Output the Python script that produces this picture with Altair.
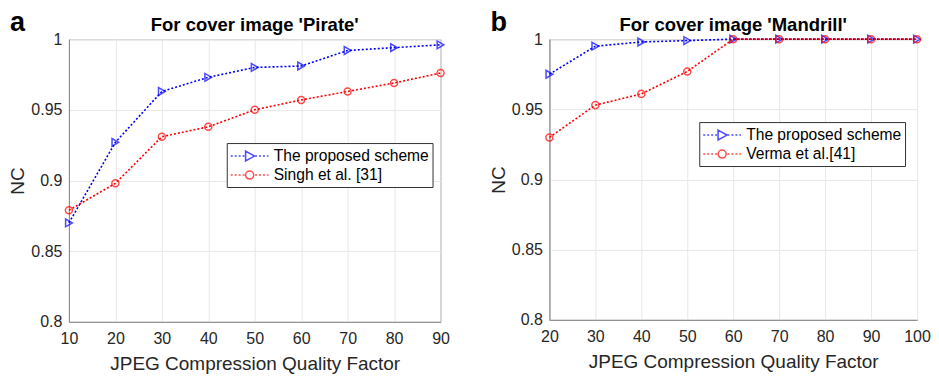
import altair as alt
import pandas as pd

# Panel a data
qa = [10, 20, 30, 40, 50, 60, 70, 80, 90]
prop_a = [0.870, 0.927, 0.963, 0.973, 0.980, 0.981, 0.992, 0.994, 0.996]
singh_a = [0.879, 0.898, 0.931, 0.938, 0.950, 0.957, 0.963, 0.969, 0.976]
names_a = ["The proposed scheme", "Singh et al. [31]"]

# Panel b data
qb = [20, 30, 40, 50, 60, 70, 80, 90, 100]
prop_b = [0.975, 0.995, 0.998, 0.999, 1.0, 1.0, 1.0, 1.0, 1.0]
verma_b = [0.930, 0.953, 0.961, 0.977, 1.0, 1.0, 1.0, 1.0, 1.0]
names_b = ["The proposed scheme", "Verma et al.[41]"]

y_ticks = [0.8, 0.85, 0.9, 0.95, 1.0]
FONT = "Liberation Sans"
GRAY = "#262626"

# legend glyph: dotted line with a hollow marker in its middle (unit = 9 px)
L0, L1 = -1.0, 3.2
MC = (L0 + L1) / 2


def dotted(a, b, step=0.22):
    parts = []
    x = a
    while x < b - 0.02:
        e = min(x + step, b)
        parts.append(f"M{x:.3f},0L{e:.3f},0")
        x += 2 * step
    return "".join(parts)


LINE_L = dotted(L0, MC - 0.5) + dotted(MC + 0.6, L1)
TRI_PATH = LINE_L + f"M{MC-0.45:.3f},-0.55L{MC+0.55:.3f},0L{MC-0.45:.3f},0.55Z"
CIR_PATH = LINE_L + f"M{MC+0.45:.3f},0A0.45,0.45 0 1,1 {MC-0.45:.3f},0A0.45,0.45 0 1,1 {MC+0.45:.3f},0Z"


def make_df(q, s1, s2, names):
    rows = []
    for x, v in zip(q, s1):
        rows.append({"q": x, "nc": v, "series": names[0]})
    for x, v in zip(q, s2):
        rows.append({"q": x, "nc": v, "series": names[1]})
    return pd.DataFrame(rows)


def panel(df, names, xdom, xticks, title, letter, w, h, lx, ly):
    cscale = alt.Scale(domain=names, range=["#0000ff", "#ff0000"])
    legend = alt.Legend(
        title=None, orient="none", legendX=lx, legendY=ly,
        labelFontSize=15.6, labelFont=FONT, labelColor="#000", labelOffset=24,
        strokeColor="#333", fillColor="white", padding=3,
        symbolSize=324, symbolStrokeWidth=1.5,
        rowPadding=0, labelLimit=300,
    )
    x = alt.X(
        "q:Q", scale=alt.Scale(domain=xdom, nice=False, zero=False),
        axis=alt.Axis(values=xticks, title="JPEG Compression Quality Factor",
                      labelFlush=False, labelPadding=9, titlePadding=8),
    )
    y = alt.Y(
        "nc:Q", scale=alt.Scale(domain=[0.8, 1.0], nice=False, zero=False),
        axis=alt.Axis(values=y_ticks, format="~g", title="NC",
                      labelPadding=7, titlePadding=3),
    )
    base = alt.Chart(df)
    col_nolegend = alt.Color("series:N", scale=cscale, legend=None)
    leg = base.transform_filter("false").mark_point(filled=False, strokeWidth=1.5).encode(
        x=x, y=y,
        color=alt.Color("series:N", scale=cscale, legend=legend),
        shape=alt.Shape("series:N", scale=alt.Scale(domain=names, range=[TRI_PATH, CIR_PATH]), legend=legend),
    )
    line = base.mark_line(strokeDash=[2, 2], strokeWidth=1.6).encode(
        x=x, y=y, color=col_nolegend, detail="series:N"
    )
    pts1 = base.transform_filter(alt.datum.series == names[0]).mark_point(
        filled=False, size=60, strokeWidth=1.5, clip=False, shape="triangle-right"
    ).encode(x=x, y=y, color=col_nolegend)
    pts2 = base.transform_filter(alt.datum.series == names[1]).mark_point(
        filled=False, size=50, strokeWidth=1.5, clip=False, shape="circle"
    ).encode(x=x, y=y, color=col_nolegend)
    lab = alt.Chart(pd.DataFrame({"t": [letter]})).mark_text(
        fontSize=27, fontWeight="bold", font=FONT, align="left", baseline="alphabetic", color="#000"
    ).encode(text="t:N", x=alt.value(-59), y=alt.value(-8))
    ttl = alt.Chart(pd.DataFrame({"t": [title]})).mark_text(
        fontSize=18.5, fontWeight="bold", font=FONT, align="center", baseline="alphabetic", color="#000"
    ).encode(text="t:N", x=alt.value(w / 2), y=alt.value(-8))
    return alt.layer(leg, line, pts1, pts2, lab, ttl).properties(width=w, height=h)


pa = panel(make_df(qa, prop_a, singh_a, names_a), names_a, [10, 90], qa,
           "For cover image 'Pirate'", "a", 372, 283, 158, 104)
pb = panel(make_df(qb, prop_b, verma_b, names_b), names_b, [20, 100], qb,
           "For cover image 'Mandrill'", "b", 368, 281, 150, 83)

chart = alt.hconcat(pa, pb, spacing=38).resolve_scale(color="independent", shape="independent").configure_axis(
    labelFont=FONT, labelFontSize=16, labelColor=GRAY,
    titleFont=FONT, titleFontSize=19, titleColor=GRAY, titleFontWeight="normal",
    domainColor="#888", gridColor="#e8e8e8", ticks=False,
).configure_view(stroke="#888").properties(
    padding={"left": 0, "top": 0, "right": 0, "bottom": 0}
)

chart.save("out.html", embed_options={"renderer": "svg", "actions": False})
